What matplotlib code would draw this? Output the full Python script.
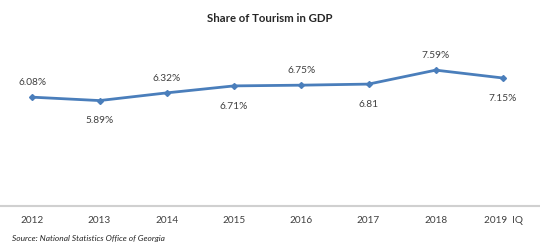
import matplotlib
matplotlib.use("Agg")
import matplotlib.pyplot as plt

years = ["2012", "2013", "2014", "2015", "2016", "2017", "2018", "2019  IQ"]
share = [6.08, 5.89, 6.32, 6.71, 6.75, 6.81, 7.59, 7.15]
labels = ["6.08%", "5.89%", "6.32%", "6.71%", "6.75%", "6.81", "7.59%", "7.15%"]
above = [True, False, True, False, True, False, True, False]

plt.rcParams['font.family'] = ['Lato', 'DejaVu Sans']

W, H = 540, 244
fig = plt.figure(figsize=(W / 100, H / 100), dpi=100)
ymax = 8.0
bottom_px = 206
px_per_unit = 17.9
ax = fig.add_axes([0, (H - bottom_px) / H, 1, ymax * px_per_unit / H])

x = list(range(len(years)))
ax.plot(x, share, color="#4a7ebb", lw=2.0, marker="D", ms=3.0, clip_on=False)
ax.set_xlim(-0.48, 7.55)
ax.set_ylim(0, ymax)

for xi, v, lab, up in zip(x, share, labels, above):
    dy = 10.5 if up else -14.5
    ax.annotate(lab, (xi, v), xytext=(0, dy), textcoords="offset points",
                ha="center", va="center", fontsize=7.3, color="#404040")

for s in ["top", "right", "left"]:
    ax.spines[s].set_visible(False)
ax.spines["bottom"].set_color("#d0d0d0")
ax.spines["bottom"].set_linewidth(1.5)
ax.set_yticks([])
ax.set_xticks(x)
ax.set_xticklabels(years, fontsize=7.2, color="#404040")
ax.tick_params(axis="x", length=0, pad=7)

fig.text(0.5, 1 - 18 / H, "Share of Tourism in GDP", ha="center", va="center",
         fontsize=8.2, fontweight="bold", color="#262626")
fig.text(12 / W, 1 - 238 / H, "Source: National Statistics Office of Georgia",
         ha="left", va="center", fontsize=6.0, style="italic", color="#262626")

fig.savefig("out.png", dpi=100)
